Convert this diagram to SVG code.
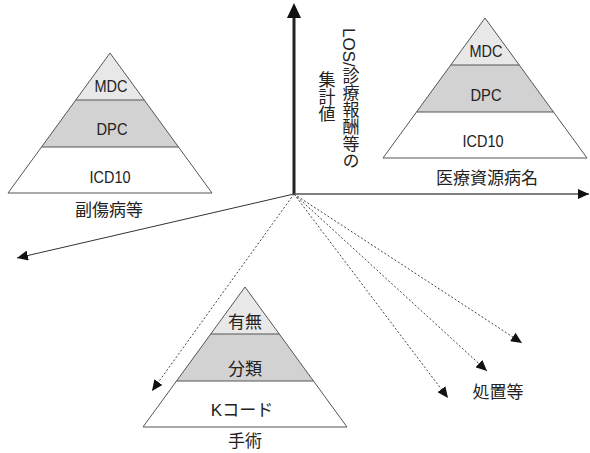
<svg xmlns="http://www.w3.org/2000/svg" width="590" height="453" viewBox="0 0 590 453">
<style>
.t{font-family:"Liberation Sans","Noto Sans CJK JP",sans-serif;fill:#222;text-anchor:middle}
.lat{font-size:17px}
.jp{font-size:17px}
.b1{fill:#e8e8e8}
.b2{fill:#d2d2d2}
.b3{fill:#fff}
.sep{stroke:#555;stroke-width:1}
.out{fill:none;stroke:#555;stroke-width:1}
.dot{fill:none;stroke:#444;stroke-width:1;stroke-dasharray:2 2}
.vt{writing-mode:vertical-rl;font-size:17px}
</style>
<defs>
<marker id="ah" markerUnits="userSpaceOnUse" markerWidth="11" markerHeight="10" refX="11" refY="5" orient="auto"><path d="M0,0 L11,5 L0,10 Z" fill="#111"/></marker>
</defs>
<rect width="590" height="453" fill="#fff"/>
<g id="connectors">
<line x1="294" y1="194" x2="294" y2="16" stroke="#222" stroke-width="3"/>
<polygon points="294,3 287,18 301,18" fill="#111"/>
<line x1="294" y1="194" x2="589" y2="194" stroke="#555" stroke-width="1.5" marker-end="url(#ah)"/>
<line x1="294" y1="194" x2="17" y2="258" stroke="#333" stroke-width="1" marker-end="url(#ah)"/>
<line class="dot" x1="294" y1="194" x2="152" y2="391" marker-end="url(#ah)"/>
<line class="dot" x1="294" y1="194" x2="448" y2="398" marker-end="url(#ah)"/>
<line class="dot" x1="294" y1="194" x2="487" y2="371" marker-end="url(#ah)"/>
<line class="dot" x1="294" y1="194" x2="522" y2="343" marker-end="url(#ah)"/>
</g>
<g id="axis-label">
<text class="t lat" style="text-anchor:start" transform="translate(343,28) rotate(90)">LOS/</text>
<text class="t vt" style="text-anchor:start" x="349" y="67">診療報酬等の</text>
<text class="t vt" x="325" y="97">集計値</text>
</g>
<g id="pyramid-left">
<polygon class="b1" points="110,53 75.8,100 144.2,100"/>
<polygon class="b2" points="75.8,100 144.2,100 178.5,147 41.5,147"/>
<polygon class="b3" points="41.5,147 178.5,147 212,193 8,193"/>
<line class="sep" x1="75.8" y1="100" x2="144.2" y2="100"/>
<line class="sep" x1="41.5" y1="147" x2="178.5" y2="147"/>
<polygon class="out" points="110,53 212,193 8,193"/>
<text class="t lat" x="111" y="92" textLength="33" lengthAdjust="spacingAndGlyphs">MDC</text>
<text class="t lat" x="112" y="135" textLength="31" lengthAdjust="spacingAndGlyphs">DPC</text>
<text class="t lat" x="110" y="183" textLength="41" lengthAdjust="spacingAndGlyphs">ICD10</text>
<text class="t jp" x="109" y="216">副傷病等</text>
</g>
<g id="pyramid-right">
<polygon class="b1" points="485,18 450.8,65 519.2,65"/>
<polygon class="b2" points="450.8,65 519.2,65 553.5,112 416.5,112"/>
<polygon class="b3" points="416.5,112 553.5,112 587,158 383,158"/>
<line class="sep" x1="450.8" y1="65" x2="519.2" y2="65"/>
<line class="sep" x1="416.5" y1="112" x2="553.5" y2="112"/>
<polygon class="out" points="485,18 587,158 383,158"/>
<text class="t lat" x="486" y="57" textLength="33" lengthAdjust="spacingAndGlyphs">MDC</text>
<text class="t lat" x="486" y="101" textLength="31" lengthAdjust="spacingAndGlyphs">DPC</text>
<text class="t lat" x="483" y="147" textLength="41" lengthAdjust="spacingAndGlyphs">ICD10</text>
<text class="t jp" x="487" y="184">医療資源病名</text>
</g>
<g id="pyramid-bottom">
<polygon class="b1" points="245,287 210.8,334 279.2,334"/>
<polygon class="b2" points="210.8,334 279.2,334 313.5,381 176.5,381"/>
<polygon class="b3" points="176.5,381 313.5,381 347,427 143,427"/>
<line class="sep" x1="210.8" y1="334" x2="279.2" y2="334"/>
<line class="sep" x1="176.5" y1="381" x2="313.5" y2="381"/>
<polygon class="out" points="245,287 347,427 143,427"/>
<text class="t jp" x="245" y="328">有無</text>
<text class="t jp" x="245" y="375">分類</text>
<text class="t jp" x="242" y="416">Kコード</text>
<text class="t jp" x="245" y="447">手術</text>
</g>
<g id="label-shochi">
<text class="t jp" x="498" y="398">処置等</text>
</g>
</svg>
